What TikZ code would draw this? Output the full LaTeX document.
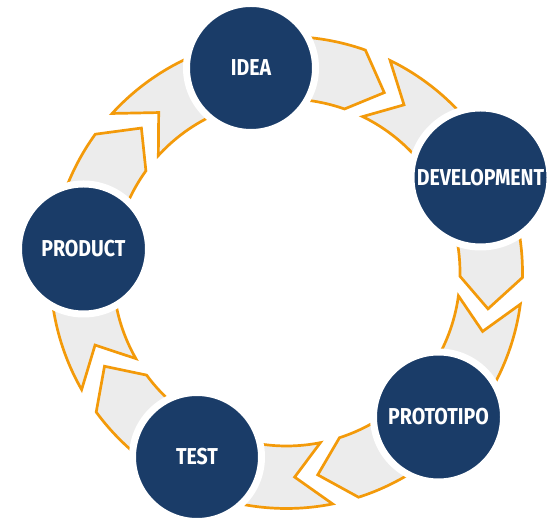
\documentclass[tikz,border=0pt]{standalone}
\usepackage{fontspec}
\newfontfamily\lblfont[FakeStretch=0.85]{Fira Sans}
\definecolor{ringblue}{HTML}{1A3C68}
\definecolor{ringorange}{HTML}{F39A0A}
\definecolor{ringgray}{HTML}{ECECEC}
\newcommand\Ro{236}
\newcommand\Ri{173.5}
\newcommand\Rm{204.75}
\newcommand\chevpiece[2]{%
  \filldraw[piece] (#1:\Ro) arc[start angle=#1, end angle=#2, radius=\Ro]
    -- ({#2-9}:\Rm) -- (#2:\Ri) arc[start angle=#2, end angle=#1, radius=\Ri]
    -- ({#1-9}:\Rm) -- cycle;}
\tikzset{
  piece/.style={fill=ringgray, draw=ringorange, line width=2.7pt, line join=miter},
  stage/.style={circle, fill=ringblue, draw=white, line width=7pt, inner sep=0pt,
    text=white, font=\lblfont\bfseries\fontsize{23}{23}\selectfont},
}
\begin{document}
\begin{tikzpicture}[x=1pt,y=1pt]
\useasboundingbox (0,0) rectangle (556,518);
\coordinate (C) at (286.5,245.5);
\begin{scope}[shift={(C)}]
  \chevpiece{99.85}{70.47}
  \chevpiece{63.97}{26.09}
  \chevpiece{26.09}{-1.23}
  \chevpiece{-7.73}{-43.55}
  \chevpiece{-43.55}{-72.22}
  \chevpiece{-78.72}{-115.88}
  \chevpiece{244.12}{216.26}
  \chevpiece{209.76}{173.40}
  \chevpiece{173.40}{144.13}
  \chevpiece{137.63}{99.85}
\end{scope}
\node[stage, minimum size=129pt] (idea) at (251,450) {IDEA};
\node[stage, minimum size=139pt] (dev) at (480.5,340.5) {DEVELOPMENT};
\node[stage, minimum size=130pt] (proto) at (438.5,101) {PROTOTIPO};
\node[stage, minimum size=129pt] (test) at (197,61) {TEST};
\node[stage, minimum size=130pt] (prod) at (83.5,269) {PRODUCT};
\end{tikzpicture}
\end{document}
